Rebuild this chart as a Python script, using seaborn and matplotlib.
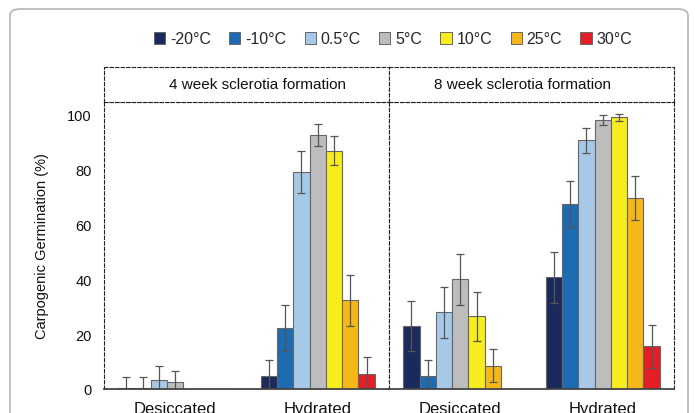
import matplotlib
matplotlib.use("Agg")
import matplotlib.pyplot as plt
from matplotlib.patches import FancyBboxPatch, Patch
import numpy as np
import pandas as pd
import seaborn as sns

temps = ["-20°C", "-10°C", "0.5°C", "5°C", "10°C", "25°C", "30°C"]
conditions = ["Desiccated", "Hydrated"]
colors = ["#1b2a5c", "#1d6cb1", "#a7c9e8", "#bdbdbd", "#f7ec1c", "#f6b817", "#e21f26"]

# values (mean, error)
week4_desiccated = [0.5, 0.5, 3.3, 2.4, 0, 0, 0]
week4_desiccated_err = [4.0, 4.0, 5.0, 4.3, 0, 0, 0]
week4_hydrated = [4.8, 22.2, 79.0, 92.4, 86.7, 32.2, 5.5]
week4_hydrated_err = [5.7, 8.5, 7.7, 4.0, 5.2, 9.3, 6.0]
week8_desiccated = [22.9, 4.8, 27.9, 39.9, 26.4, 8.4, 0]
week8_desiccated_err = [9.0, 5.7, 9.3, 9.2, 8.9, 6.0, 0]
week8_hydrated = [40.6, 67.3, 90.4, 97.9, 98.8, 69.6, 15.5]
week8_hydrated_err = [9.3, 8.2, 4.5, 1.9, 1.2, 8.0, 7.8]

panels = [
    ("4 week sclerotia formation", [week4_desiccated, week4_hydrated], [week4_desiccated_err, week4_hydrated_err]),
    ("8 week sclerotia formation", [week8_desiccated, week8_hydrated], [week8_desiccated_err, week8_hydrated_err]),
]

sns.set_theme(style="white")
plt.rcParams['font.family'] = ['Liberation Sans', 'DejaVu Sans']

W, H = 695, 414
fig = plt.figure(figsize=(W / 100, H / 100), dpi=100)

# rounded frame around the figure
frame = FancyBboxPatch((10 / W, -0.05), 678 / W, (H - 10) / H + 0.05,
                       boxstyle="round,pad=0,rounding_size=0.015",
                       transform=fig.transFigure, fill=False,
                       edgecolor="#b5b5b5", linewidth=1.2)
fig.patches.append(frame)

dash = (0, (3, 2))
x0s = [104, 389]
pw = 285
for i, (title, vals, errs) in enumerate(panels):
    rows = []
    for c, v in zip(conditions, vals):
        for t, val in zip(temps, v):
            rows.append({"cond": c, "temp": t, "val": val})
    df = pd.DataFrame(rows)

    ax = fig.add_axes([x0s[i] / W, (H - 390) / H, pw / W, (390 - 103) / H])
    sns.barplot(data=df, x="cond", y="val", hue="temp", order=conditions,
                hue_order=temps, palette=colors, saturation=1, errorbar=None, width=0.8,
                edgecolor="#666666", linewidth=0.8, legend=False, ax=ax)
    bar_groups = list(ax.containers)
    for k, cont in enumerate(bar_groups):
        for j, bar in enumerate(cont):
            e = errs[j][k]
            if e > 0:
                ax.errorbar(bar.get_x() + bar.get_width() / 2, bar.get_height(), yerr=e,
                            color="#555555", elinewidth=0.9, capsize=3, capthick=0.9)
    ax.set_xlim(-0.5, 1.5)
    ax.set_ylim(0, 104.4)
    ax.set_xlabel("")
    ax.set_ylabel("")
    ax.tick_params(axis="x", length=0, pad=9, labelsize=12, labelcolor="#111111")
    ax.set_xticks([0.5], minor=True)
    ax.tick_params(axis="x", which="minor", direction="in", length=3, color="#444444", width=1)
    ax.set_yticks([0, 20, 40, 60, 80, 100])
    if i == 0:
        ax.tick_params(axis="y", length=0, pad=9, labelsize=10.5, labelcolor="#111111")
        ax.set_ylabel("Carpogenic Germination (%)", fontsize=10.5, labelpad=13, color="#111111")
    else:
        ax.tick_params(axis="y", length=0, labelleft=False)
    for s in ["left", "top", "right"]:
        ax.spines[s].set_linestyle(dash)
        ax.spines[s].set_linewidth(0.8)
        ax.spines[s].set_color("#222222")
    ax.spines["bottom"].set_color("#444444")
    ax.spines["bottom"].set_linewidth(1.3)

    hx = fig.add_axes([x0s[i] / W, (H - 103) / H, pw / W, 35 / H])
    hx.set_xticks([])
    hx.set_yticks([])
    for s in hx.spines.values():
        s.set_linestyle(dash)
        s.set_linewidth(0.8)
        s.set_color("#222222")
    hx.text([0.54, 0.47][i], 0.5, title, ha="center", va="center", fontsize=11,
            color="#111111", transform=hx.transAxes)

handles = [Patch(facecolor=c, edgecolor="#666666", linewidth=0.7) for c in colors]
fig.legend(handles, temps, loc="center", bbox_to_anchor=(393 / W, 1 - 40 / H), ncol=7,
           frameon=False, fontsize=11.5, handlelength=0.7, handleheight=0.7,
           handletextpad=0.3, columnspacing=1.15)

fig.savefig("out.png", dpi=100)
